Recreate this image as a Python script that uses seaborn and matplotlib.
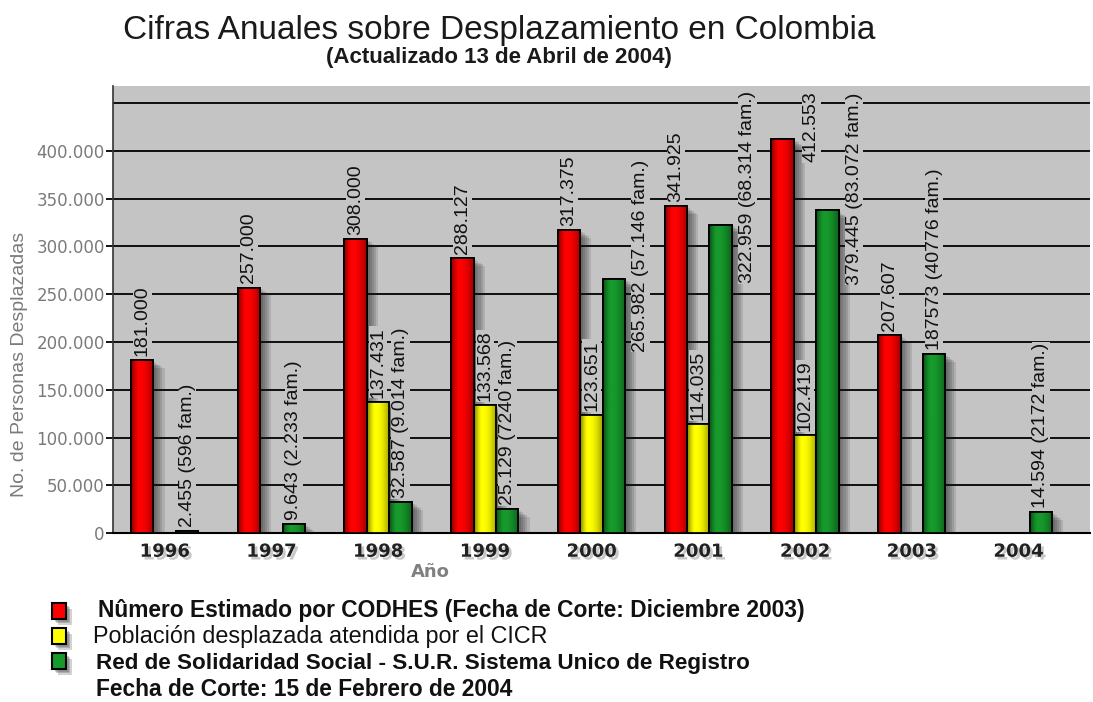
import numpy as np
import pandas as pd
import matplotlib
matplotlib.use("Agg")
import matplotlib.pyplot as plt
import seaborn as sns
from matplotlib import font_manager as fm
from matplotlib import patheffects as pe
from matplotlib.patches import Rectangle
from matplotlib.colors import to_rgb

# ---------------- data ----------------
years = ["1996", "1997", "1998", "1999", "2000", "2001", "2002", "2003", "2004"]
codhes = [181000, 257000, 308000, 288127, 317375, 341925, 412553, 207607, np.nan]
cicr = [np.nan, np.nan, 137431, 133568, 123651, 114035, 102419, np.nan, np.nan]
rss = [2455, 9643, 32587, 25129, 265982, 322959, 338000, 187573, 22000]

codhes_labels = ["181.000", "257.000", "308.000", "288.127", "317.375",
                 "341.925", "412.553", "207.607", None]
cicr_labels = [None, None, "137.431", "133.568", "123.651", "114.035",
               "102.419", None, None]
rss_labels = ["2.455 (596 fam.)", "9.643 (2.233 fam.)", "32.587 (9.014 fam.)",
              "25.129 (7240 fam.)", "265.982 (57.146 fam.)",
              "322.959 (68.314 fam.)", "379.445 (83.072 fam.)",
              "187573 (40776 fam.)", "14.594 (2172 fam.)"]

series_names = [
    "Nûmero Estimado por CODHES (Fecha de Corte: Diciembre 2003)",
    "Población desplazada atendida por el CICR",
    "Red de Solidaridad Social - S.U.R. Sistema Unico de Registro",
]
legend_note = "Fecha de Corte: 15 de Febrero de 2004"
yticks = [0, 50000, 100000, 150000, 200000, 250000, 300000, 350000, 400000]
extra_grid = [450000]

# ---------------- styling ----------------
colors = ["#ff0000", "#ffff00", "#169a2c"]
bg = "#c4c4c4"

sns.set_theme(style="white")
names = {f.name for f in fm.fontManager.ttflist}
SANS = "Liberation Sans" if "Liberation Sans" in names else "DejaVu Sans"
plt.rcParams["font.family"] = [SANS, "DejaVu Sans"]

rows = []
for key, vals in zip(series_names, [codhes, cicr, rss]):
    for y, v in zip(years, vals):
        if not np.isnan(v):
            rows.append({"Año": y, "Serie": key, "Valor": v})
df = pd.DataFrame(rows)

fig = plt.figure(figsize=(10.93, 7.02), dpi=100)
ax = fig.add_axes([0.1034, 0.2407, 0.8939, 0.6368])
ax.set_facecolor(bg)

sns.barplot(data=df, x="Año", y="Valor", hue="Serie", order=years,
            hue_order=series_names, palette=colors, width=0.63,
            edgecolor="black", linewidth=1.3, saturation=1, ax=ax,
            legend=False, zorder=3)

# soft (layered) drop shadow
shadow = [pe.SimplePatchShadow(offset=(o, -0.7 * o), shadow_rgbFace="#1a1a1a", alpha=0.13)
          for o in (8, 6.5, 5, 3.5, 2)] + [pe.Normal()]

# cylindrical shading on every bar (clipped image), then re-drawn outline
prof = np.array([0.62, 0.85, 1.0, 1.0, 0.97, 0.9, 0.8, 0.68])
bars = [p for p in ax.patches if p.get_height() > 0]
for p in bars:
    p.set_path_effects(shadow)
    base = np.array(to_rgb(p.get_facecolor()))
    grad = np.clip(prof[:, None] * base[None, :], 0, 1)[None, :, :]
    x0, y0 = p.get_x(), p.get_y()
    w, h = p.get_width(), p.get_height()
    im = ax.imshow(grad, extent=[x0, x0 + w, y0, y0 + h], aspect="auto",
                   interpolation="bilinear", zorder=3.05, origin="lower")
    im.set_clip_path(p)
    edge = Rectangle((x0, y0), w, h, fc="none", ec="black", lw=1.3, zorder=3.2)
    ax.add_patch(edge)

ax.set_xlim(-0.484, 8.671)
ax.set_ylim(0, 468000)
ax.set_yticks(yticks)
ax.set_yticklabels([f"{v:,}".replace(",", ".") for v in yticks],
                   fontsize=12, color="#7a7a7a", family="DejaVu Sans")
ax.tick_params(axis="y", length=5, width=1.3, color="black", pad=1, left=True)
ax.tick_params(axis="x", length=0, pad=7)
for t in ax.get_xticklabels():
    t.set_fontsize(13)
    t.set_fontweight("bold")
    t.set_color("#222222")
    t.set_family("DejaVu Sans")
    t.set_path_effects([pe.SimplePatchShadow(offset=(2, -2), shadow_rgbFace="#777777", alpha=0.4),
                        pe.Normal()])
ax.grid(axis="y", color="black", linewidth=1.3, zorder=0)
for g in extra_grid:
    ax.axhline(g, color="black", linewidth=1.3, zorder=0.5)
ax.set_axisbelow(True)
ax.set_xlabel("")
ax.set_ylabel("")
for s in ["top", "right"]:
    ax.spines[s].set_visible(False)
ax.spines["left"].set_color("#333333")
ax.spines["left"].set_linewidth(1.2)
ax.spines["bottom"].set_color("black")
ax.spines["bottom"].set_linewidth(1.5)

# ---------------- value labels ----------------
slot = 0.63 / 3
label_adjust = {
    (2, 4): (0.25, 190000),
    (2, 5): (0.25, 262000),
    (2, 6): (0.25, 260000),
    (0, 6): (0.27, 388000),
}
all_vals = [codhes, cicr, rss]
for h, labs in enumerate([codhes_labels, cicr_labels, rss_labels]):
    for i, lab in enumerate(labs):
        if lab is None:
            continue
        x = i + (h - 1) * slot
        y = all_vals[h][i]
        off = 3
        if (h, i) in label_adjust:
            dx, y = label_adjust[(h, i)]
            x += dx
            off = 0
        ax.annotate(lab, (x, y), xytext=(0, off), textcoords="offset points",
                    rotation=90, ha="center", va="bottom", fontsize=14,
                    color="#111111", zorder=5,
                    bbox=dict(boxstyle="square,pad=0.04", fc=bg, ec="none"))

# ---------------- titles ----------------
fig.text(0.4565, 1 - 30 / 702, "Cifras Anuales sobre Desplazamiento en Colombia",
         ha="center", va="center", fontsize=24, color="#1a1a1a")
fig.text(0.4565, 1 - 57 / 702, "(Actualizado 13 de Abril de 2004)",
         ha="center", va="center", fontsize=16, fontweight="bold", color="#1a1a1a")
fig.text(20 / 1093, 1 - 364 / 702, "No. de Personas Desplazadas", rotation=90,
         ha="center", va="center", fontsize=14, color="#7a7a7a")
fig.text(430 / 1093, 1 - 572 / 702, "Año", ha="center", va="center",
         fontsize=13, fontweight="bold", color="#808080", family="DejaVu Sans")

# ---------------- legend ----------------
leg_y = [611, 636, 661]
for c, yy in zip(colors, leg_y):
    r = Rectangle((52 / 1093, 1 - (yy + 8) / 702), 14 / 1093, 16 / 702,
                  transform=fig.transFigure, fc=c, ec="black", lw=1.5,
                  path_effects=[pe.SimplePatchShadow(offset=(o, -o), shadow_rgbFace="#222222", alpha=0.2)
                                for o in (4, 3, 2)] + [pe.Normal()])
    fig.add_artist(r)
fig.text(98 / 1093, 1 - 610 / 702, series_names[0], ha="left", va="center",
         fontsize=16.4, fontweight="bold", color="#111111")
fig.text(93 / 1093, 1 - 636 / 702, series_names[1], ha="left", va="center",
         fontsize=16.8, color="#111111")
fig.text(96 / 1093, 1 - 664 / 702, series_names[2], ha="left", va="center",
         fontsize=16.2, fontweight="bold", color="#111111")
fig.text(96 / 1093, 1 - 690 / 702, legend_note, ha="left", va="center",
         fontsize=16.4, fontweight="bold", color="#111111")

fig.savefig("out.png", dpi=100, facecolor="white")
